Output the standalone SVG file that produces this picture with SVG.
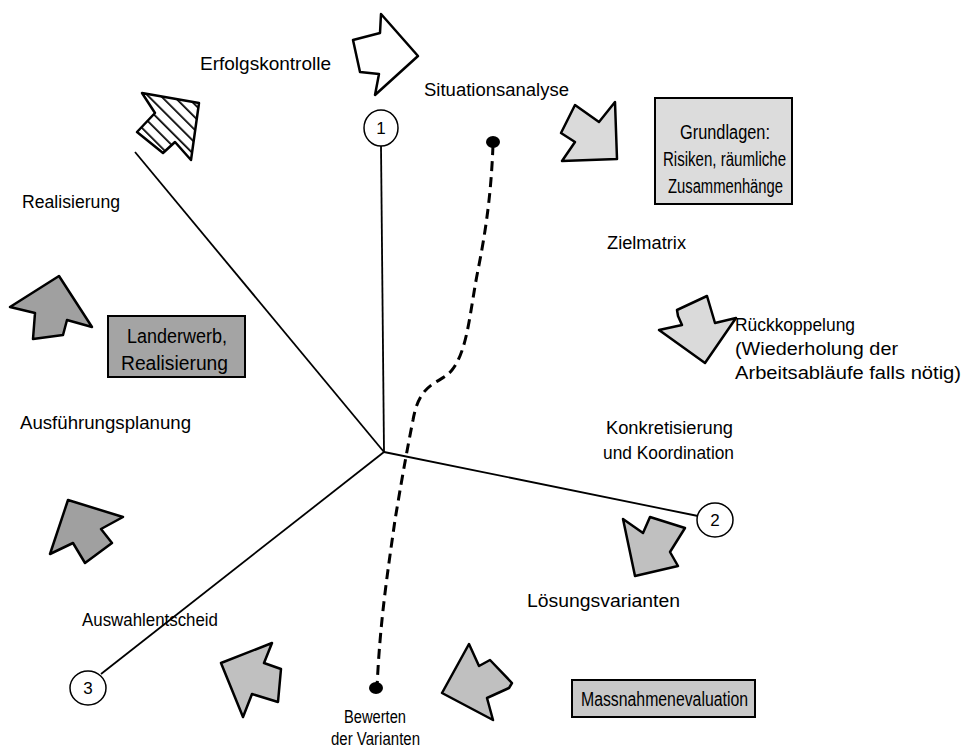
<svg xmlns="http://www.w3.org/2000/svg" width="964" height="751" viewBox="0 0 964 751">
<defs>
<pattern id="hatch" patternUnits="userSpaceOnUse" width="9" height="9" patternTransform="rotate(-45)">
<rect width="9" height="9" fill="#fff"/>
<line x1="0" y1="0" x2="0" y2="9" stroke="#000" stroke-width="3.5"/>
</pattern>
</defs>
<style>
.lbl{font-family:"Liberation Sans",Arial,sans-serif;font-size:17.5px;fill:#000}
.big{font-family:"Liberation Sans",Arial,sans-serif;font-size:20px;fill:#000}
.num{font-family:"Liberation Sans",Arial,sans-serif;font-size:17px;fill:#000;text-anchor:middle}
.arr{stroke:#000;stroke-width:2.5;stroke-linejoin:round}
.axis{stroke:#000;stroke-width:1.8;fill:none}
.circ{fill:#fff;stroke:#000;stroke-width:1.5}
.box{stroke:#000;stroke-width:2}
</style>
<rect width="964" height="751" fill="#fff"/>

<g id="connectors">
<line class="axis" x1="381" y1="146" x2="384" y2="452"/>
<line class="axis" x1="135" y1="152" x2="384" y2="452"/>
<line class="axis" x1="698" y1="516" x2="384" y2="452"/>
<line class="axis" x1="101" y1="674" x2="384" y2="452"/>
<path d="M493,145 C491,200 484,240 478,270 C470,310 468,350 452,370 C440,385 420,380 413,420 C406,455 400,490 395,520 C388,570 380,620 377,688" fill="none" stroke="#000" stroke-width="3" stroke-dasharray="10,6"/>
<ellipse cx="493" cy="142" rx="7" ry="6" fill="#000"/>
<ellipse cx="376" cy="688" rx="7" ry="6" fill="#000"/>
</g>

<g id="circle1"><ellipse class="circ" cx="381" cy="128" rx="17" ry="18"/><text class="num" x="381" y="134">1</text></g>
<g id="circle2"><ellipse class="circ" cx="715" cy="520" rx="18" ry="17"/><text class="num" x="715" y="526">2</text></g>
<g id="circle3"><ellipse class="circ" cx="88" cy="688" rx="18" ry="17"/><text class="num" x="88" y="694">3</text></g>

<g id="arrow-erfolg"><polygon class="arr" fill="#fff" points="381,14 418,56 375,95 379,74 360,72 353,40 380,33"/></g>
<g id="arrow-realisierung-hatch"><polygon class="arr" fill="url(#hatch)" points="142,93 199,103 191,160 175,142 163,153 137,132 155,113"/></g>
<g id="arrow-situation"><polygon class="arr" fill="#dadada" points="575,105 599,122 615,102 617,159 562,161 575,142 561,133"/></g>
<g id="arrow-rueck"><polygon class="arr" fill="#dadada" points="677,310 707,296 715,323 736,318 705,363 659,330 682,325 678,316"/></g>
<g id="arrow-realisierung"><polygon class="arr" fill="#a0a0a0" points="59,276 92,327 67,320 63,335 33,339 35,313 10,307"/></g>
<g id="arrow-ausfuehrung"><polygon class="arr" fill="#a0a0a0" points="68,500 123,517 101,529 112,543 85,563 73,543 50,554"/></g>
<g id="arrow-loesung"><polygon class="arr" fill="#c0c0c0" points="623,519 643,533 650,517 685,528 670,552 678,566 635,576"/></g>
<g id="arrow-massnahmen"><polygon class="arr" fill="#c0c0c0" points="469,644 479,666 490,660 512,683 509,688 487,698 493,720 442,693"/></g>
<g id="arrow-auswahl"><polygon class="arr" fill="#c0c0c0" points="272,643 264,663 281,669 278,702 252,694 243,717 221,663"/></g>

<g id="box-grundlagen">
<rect class="box" x="655" y="98" width="137" height="106" fill="#dcdcdc"/>
<text class="big" x="680" y="139" textLength="90" lengthAdjust="spacingAndGlyphs">Grundlagen:</text>
<text class="big" x="663" y="166" textLength="123" lengthAdjust="spacingAndGlyphs">Risiken, räumliche</text>
<text class="big" x="668" y="193" textLength="115" lengthAdjust="spacingAndGlyphs">Zusammenhänge</text>
</g>
<g id="box-landerwerb">
<rect class="box" x="108" y="316" width="137" height="61" fill="#a4a4a4"/>
<text class="big" x="127" y="343" textLength="100" lengthAdjust="spacingAndGlyphs">Landerwerb,</text>
<text class="big" x="121" y="370" textLength="107" lengthAdjust="spacingAndGlyphs">Realisierung</text>
</g>
<g id="box-massnahmen">
<rect class="box" x="572" y="680" width="183" height="37" fill="#c8c8c8"/>
<text class="big" x="581" y="706" textLength="167" lengthAdjust="spacingAndGlyphs">Massnahmenevaluation</text>
</g>

<g id="labels">
<text class="lbl" x="200" y="70" textLength="131" lengthAdjust="spacingAndGlyphs">Erfolgskontrolle</text>
<text class="lbl" x="424" y="96" textLength="145" lengthAdjust="spacingAndGlyphs">Situationsanalyse</text>
<text class="lbl" x="22" y="208" textLength="98" lengthAdjust="spacingAndGlyphs">Realisierung</text>
<text class="lbl" x="607" y="249" textLength="79" lengthAdjust="spacingAndGlyphs">Zielmatrix</text>
<text class="lbl" x="735" y="331" textLength="120" lengthAdjust="spacingAndGlyphs">Rückkoppelung</text>
<text class="lbl" x="735" y="355" textLength="163" lengthAdjust="spacingAndGlyphs">(Wiederholung der</text>
<text class="lbl" x="735" y="379" textLength="226" lengthAdjust="spacingAndGlyphs">Arbeitsabläufe falls nötig)</text>
<text class="lbl" x="20" y="429" textLength="171" lengthAdjust="spacingAndGlyphs">Ausführungsplanung</text>
<text class="lbl" x="606" y="434" textLength="127" lengthAdjust="spacingAndGlyphs">Konkretisierung</text>
<text class="lbl" x="603" y="459" textLength="131" lengthAdjust="spacingAndGlyphs">und Koordination</text>
<text class="lbl" x="527" y="607" textLength="153" lengthAdjust="spacingAndGlyphs">Lösungsvarianten</text>
<text class="lbl" x="82" y="626" textLength="136" lengthAdjust="spacingAndGlyphs">Auswahlentscheid</text>
<text class="lbl" x="344" y="723" textLength="62" lengthAdjust="spacingAndGlyphs">Bewerten</text>
<text class="lbl" x="331" y="745" textLength="89" lengthAdjust="spacingAndGlyphs">der Varianten</text>
</g>
</svg>
